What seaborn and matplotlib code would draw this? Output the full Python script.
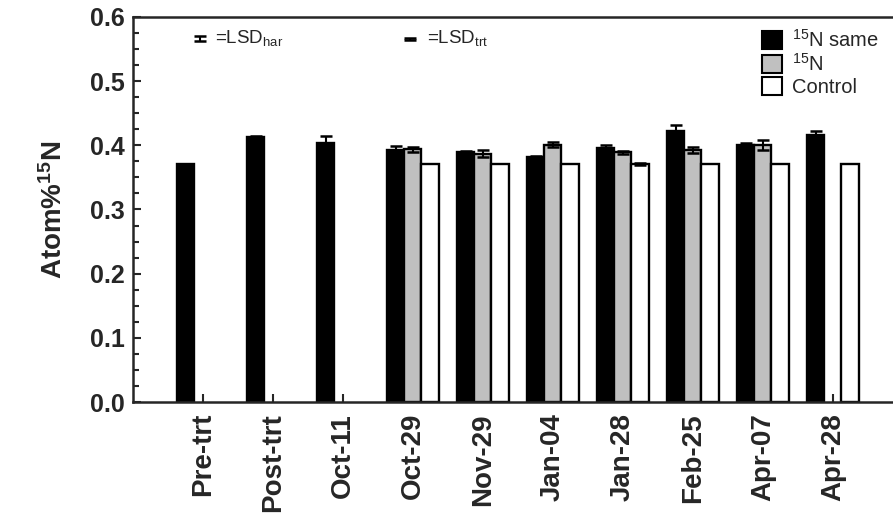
import numpy as np
import pandas as pd
import matplotlib
matplotlib.use("Agg")
import matplotlib.pyplot as plt
from matplotlib.ticker import MultipleLocator, FormatStrFormatter
from matplotlib.patches import Patch
import seaborn as sns

dates = ["Pre-trt", "Post-trt", "Oct-11", "Oct-29", "Nov-29", "Jan-04",
         "Jan-28", "Feb-25", "Apr-07", "Apr-28"]
treatments = ["15N same", "15N", "Control"]
same_vals = [0.371, 0.413, 0.404, 0.392, 0.389, 0.382, 0.396, 0.422, 0.401, 0.416]
same_err = [0.0, 0.002, 0.010, 0.007, 0.002, 0.002, 0.004, 0.010, 0.002, 0.007]
n15_vals = [np.nan, np.nan, np.nan, 0.394, 0.387, 0.401, 0.389, 0.393, 0.400, np.nan]
n15_err = [np.nan, np.nan, np.nan, 0.004, 0.005, 0.004, 0.002, 0.005, 0.008, np.nan]
ctrl_vals = [np.nan, np.nan, np.nan, 0.371, 0.371, 0.371, 0.371, 0.371, 0.371, 0.371]
ctrl_err = [np.nan, np.nan, np.nan, 0.0, 0.0, 0.0, 0.002, 0.0, 0.0, 0.0]
lsd_har = 0.004
lsd_trt = 0.002

rows = []
for i, d in enumerate(dates):
    for t, v, e in zip(treatments, [same_vals, n15_vals, ctrl_vals], [same_err, n15_err, ctrl_err]):
        rows.append({"date": d, "trt": t, "val": v[i], "err": e[i]})
df = pd.DataFrame(rows)

sns.set_style("ticks")
plt.rcParams["font.family"] = ["Liberation Sans", "DejaVu Sans"]
plt.rcParams["mathtext.fontset"] = "custom"
plt.rcParams["mathtext.rm"] = "Liberation Sans"
plt.rcParams["mathtext.bf"] = "Liberation Sans:bold"
plt.rcParams["mathtext.it"] = "Liberation Sans:italic"

colors = {"15N same": "#000000", "15N": "#c0c0c0", "Control": "#ffffff"}

fig = plt.figure(figsize=(8.93, 5.27), dpi=100)
ax = fig.add_axes([133 / 893, 1 - 402 / 527, 1 - 133 / 893, (402 - 17) / 527])

width = 0.735
sns.barplot(data=df, x="date", y="val", hue="trt", order=dates, hue_order=treatments,
            palette=colors, width=width, edgecolor="black", linewidth=1.7,
            errorbar=None, legend=False, ax=ax, saturation=1)

bw = width / 3
for j, t in enumerate(treatments):
    sub = df[df.trt == t].reset_index(drop=True)
    xs = np.arange(len(dates)) + (j - 1) * bw
    m = sub["val"].notna() & (sub["err"] > 0)
    ax.errorbar(xs[m], sub["val"][m], yerr=sub["err"][m], fmt="none", ecolor="black",
                elinewidth=1.5, capsize=4.5, capthick=1.8, zorder=5)

# LSD symbols
ax.errorbar([-0.04], [0.566], yerr=[lsd_har], fmt="none", ecolor="black",
            elinewidth=1.5, capsize=4, capthick=1.8)
ax.text(0.17, 0.568, "=LSD$_{\\mathrm{har}}$", fontsize=13.5, va="center", ha="left")
ax.errorbar([2.96], [0.566], yerr=[lsd_trt], fmt="none", ecolor="black",
            elinewidth=1.5, capsize=4, capthick=1.8)
ax.text(3.2, 0.568, "=LSD$_{\\mathrm{trt}}$", fontsize=13.5, va="center", ha="left")

ax.set_xlim(-1.0, 9.86)
ax.set_ylim(0, 0.6)
ax.yaxis.set_major_locator(MultipleLocator(0.1))
ax.yaxis.set_minor_locator(MultipleLocator(0.025))
ax.yaxis.set_major_formatter(FormatStrFormatter("%.1f"))
ax.tick_params(axis="y", which="major", direction="in", length=6, width=1.5,
               labelsize=18, pad=6)
ax.tick_params(axis="y", which="minor", direction="in", length=4, width=1.5)
ax.tick_params(axis="x", which="major", direction="in", length=6, width=1.5,
               labelsize=20, pad=8)
for lab in ax.get_yticklabels() + ax.get_xticklabels():
    lab.set_fontweight("bold")
for lab in ax.get_xticklabels():
    lab.set_rotation(90)

ax.set_xlabel("")
ax.set_ylabel("Atom%$^{\\mathbf{15}}$N", fontsize=20, fontweight="bold", labelpad=16)

for s in ["left", "bottom", "top"]:
    ax.spines[s].set_linewidth(1.8)
ax.spines["right"].set_visible(False)

handles = [Patch(facecolor=colors[t], edgecolor="black", linewidth=1.5) for t in treatments]
labels = ["$^{15}$N same", "$^{15}$N", "Control"]
fig.legend(handles, labels, loc="upper left", bbox_to_anchor=(762 / 893, 1 - 29 / 527),
           frameon=False, fontsize=14.5, handlelength=1.0, handleheight=1.0,
           handletextpad=0.5, labelspacing=0.1, borderaxespad=0, borderpad=0)

fig.savefig("out.png", dpi=100)
